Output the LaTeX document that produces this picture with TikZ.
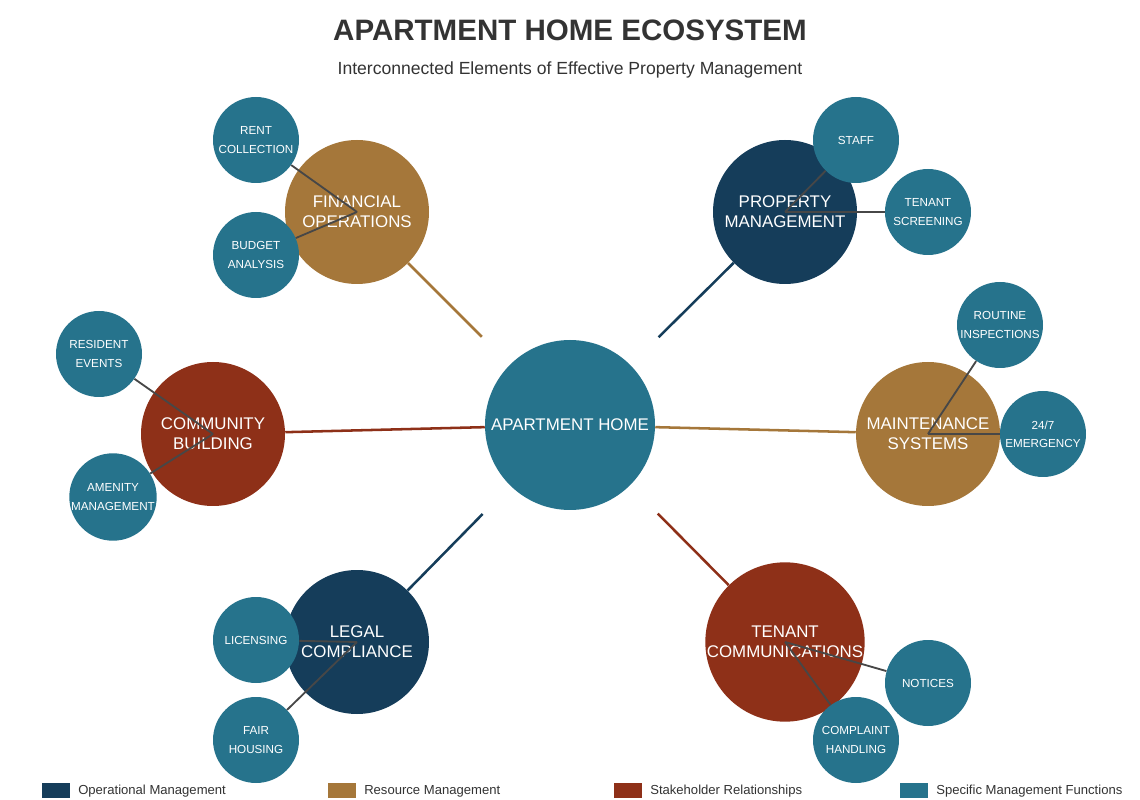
\documentclass[tikz,border=0pt]{standalone}
\usepackage{fontspec}
\setmainfont{Liberation Sans}
\usetikzlibrary{backgrounds}
\definecolor{navy}{HTML}{153D5A}
\definecolor{brownish}{HTML}{A5773A}
\definecolor{rust}{HTML}{8E3018}
\definecolor{teal}{HTML}{26738C}
\definecolor{ink}{HTML}{333333}
\tikzset{big/.style={circle,fill=#1,minimum size=144*0.025cm,inner sep=0pt,text=white,align=center,font=\fontsize{12}{14}\selectfont}}
\tikzset{small/.style={circle,fill=teal,minimum size=86*0.025cm,inner sep=0pt,text=white,align=center,font=\fontsize{8.3}{13}\selectfont}}
\tikzset{link/.style={line width=1.8pt,draw=#1}}
\tikzset{sublink/.style={line width=1.3pt,draw=ink!90}}
\begin{document}
\begin{tikzpicture}[x=0.025cm,y=-0.025cm]
	\useasboundingbox (0,0) rectangle (1140,800);
	\node[font=\bfseries\fontsize{21}{24}\selectfont,text=ink] (title) at (570,30) {APARTMENT HOME ECOSYSTEM};
	\node[font=\fontsize{12.5}{14}\selectfont,text=ink] (subtitle) at (570,70) {Interconnected Elements of Effective Property Management};
	% hub and main areas
	\node[big=teal,minimum size=170*0.025cm] (home) at (570,425) {APARTMENT HOME};
	\node[big=navy] (prop) at (785,212) {PROPERTY\\MANAGEMENT};
	\node[big=brownish] (maint) at (928,434) {MAINTENANCE\\SYSTEMS};
	\node[big=rust] (comm) at (785,642) {TENANT\\COMMUNICATIONS};
	\node[big=navy] (legal) at (357,642) {LEGAL\\COMPLIANCE};
	\node[big=rust] (build) at (213,434) {COMMUNITY\\BUILDING};
	\node[big=brownish] (fin) at (357,212) {FINANCIAL\\OPERATIONS};
	% specific functions
	\node[small] (staff) at (856,140) {STAFF};
	\node[small] (screen) at (928,212) {TENANT\\SCREENING};
	\node[small] (insp) at (1000,325) {ROUTINE\\INSPECTIONS};
	\node[small] (emerg) at (1043,434) {24/7\\EMERGENCY};
	\node[small] (notice) at (928,683) {NOTICES};
	\node[small] (compl) at (856,740) {COMPLAINT\\HANDLING};
	\node[small] (lic) at (256,640) {LICENSING};
	\node[small] (fair) at (256,740) {FAIR\\HOUSING};
	\node[small] (events) at (99,354) {RESIDENT\\EVENTS};
	\node[small] (amen) at (113,497) {AMENITY\\MANAGEMENT};
	\node[small] (rent) at (256,140) {RENT\\COLLECTION};
	\node[small] (budget) at (256,255) {BUDGET\\ANALYSIS};
	\begin{scope}[on background layer]
		\draw[link=navy,shorten <=28] (home) -- (prop);
		\draw[link=brownish] (home) -- (maint);
		\draw[link=rust,shorten <=28] (home) -- (comm);
		\draw[link=navy,shorten <=28] (home) -- (legal);
		\draw[link=rust] (home) -- (build);
		\draw[link=brownish,shorten <=28] (home) -- (fin);
	\end{scope}
	\foreach \m/\s in {prop/staff,prop/screen,maint/insp,maint/emerg,comm/notice,comm/compl,legal/lic,legal/fair,build/events,build/amen,fin/rent,fin/budget}{
		\draw[sublink] (\m.center) -- (\s);
	}
	% legend
	\foreach \c/\t [count=\i from 0] in {navy/Operational Management,brownish/Resource Management,rust/Stakeholder Relationships,teal/Specific Management Functions}{
		\fill[\c] (42+286*\i,783) rectangle ++(28,15);
		\node[anchor=west,inner sep=0pt,font=\fontsize{9.3}{11}\selectfont,text=ink] (leg\i) at (78+286*\i,791) {\t};
	}
\end{tikzpicture}
\end{document}
